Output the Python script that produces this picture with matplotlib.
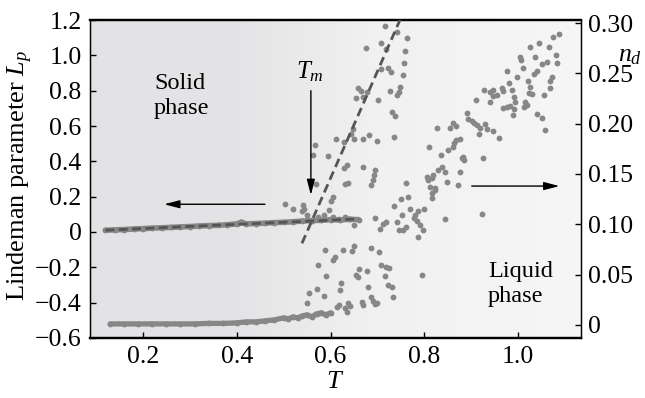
import numpy as np
import matplotlib
matplotlib.use("Agg")
import matplotlib.pyplot as plt
from matplotlib.colors import LinearSegmentedColormap

plt.rcParams['font.family'] = ['Liberation Serif', 'DejaVu Serif']
plt.rcParams['mathtext.fontset'] = 'custom'
plt.rcParams['mathtext.rm'] = 'Liberation Serif'
plt.rcParams['mathtext.it'] = 'Liberation Serif:italic'
plt.rcParams['axes.unicode_minus'] = True

# ---------------- data ----------------
# Lindeman parameter, solid band
Lp_solid_T = [0.12, 0.14, 0.16, 0.18, 0.20, 0.22, 0.24, 0.26, 0.28, 0.30, 0.32, 0.34,
              0.36, 0.38, 0.40, 0.41, 0.42, 0.44, 0.46, 0.48, 0.50, 0.52, 0.54, 0.56,
              0.58, 0.60, 0.62, 0.64, 0.66]
Lp_solid = [0.010, 0.012, 0.014, 0.017, 0.019, 0.022, 0.024, 0.026, 0.029, 0.031, 0.034, 0.036,
            0.038, 0.041, 0.046, 0.056, 0.046, 0.048, 0.050, 0.053, 0.055, 0.058, 0.062, 0.065,
            0.066, 0.070, 0.068, 0.072, 0.070]

# Lindeman parameter, scattered points near / above melting
Lp_melt_T = [0.716, 0.742, 0.763, 0.675, 0.708, 0.718, 0.759, 0.757, 0.707, 0.723, 0.729, 0.754,
             0.658, 0.664, 0.670, 0.655, 0.678, 0.702, 0.727, 0.749, 0.746, 0.742, 0.731, 0.737,
             0.647, 0.644, 0.651, 0.612, 0.628, 0.669, 0.681, 0.700, 0.735, 0.567, 0.562, 0.595,
             0.635, 0.628, 0.670, 0.695, 0.692, 0.690, 0.687, 0.569, 0.631, 0.638, 0.606, 0.503,
             0.519, 0.541, 0.543, 0.600, 0.539, 0.549, 0.585, 0.597, 0.606, 0.574, 0.617, 0.631,
             0.642]
Lp_melt = [1.166, 1.134, 1.101, 1.044, 1.070, 1.036, 1.026, 0.958, 0.920, 0.927, 0.908, 0.890,
           0.816, 0.797, 0.766, 0.760, 0.794, 0.745, 0.800, 0.818, 0.794, 0.775, 0.681, 0.657,
           0.583, 0.555, 0.525, 0.525, 0.511, 0.528, 0.549, 0.517, 0.539, 0.492, 0.436, 0.433,
           0.379, 0.364, 0.370, 0.349, 0.323, 0.294, 0.266, 0.273, 0.269, 0.276, 0.200, 0.159,
           0.129, 0.153, 0.133, 0.177, 0.121, 0.096, 0.096, 0.125, 0.083, 0.087, 0.072, 0.083,
           0.072]

# linear fits (intercept, slope) and their T ranges
solid_fit = (-0.0042, 0.1185)
solid_fit_T = [0.12, 0.66]
liquid_fit = (-3.325, 6.05)
liquid_fit_T = [0.539, 0.77]

# defect density, solid band
nd_solid_T = [0.13, 0.16, 0.19, 0.22, 0.25, 0.28, 0.31, 0.34, 0.37, 0.40, 0.42, 0.44, 0.46,
              0.48, 0.50, 0.51, 0.52, 0.53, 0.54, 0.55, 0.56, 0.57, 0.58, 0.59, 0.60]
nd_solid = [0.001, 0.001, 0.001, 0.001, 0.001, 0.001, 0.001, 0.0015, 0.0015, 0.002, 0.003,
            0.003, 0.004, 0.005, 0.007, 0.006, 0.008, 0.007, 0.009, 0.010, 0.008, 0.011,
            0.012, 0.010, 0.012]

# defect density, liquid side scatter
nd_liq_T = [0.588, 0.610, 0.606, 0.627, 0.645, 0.649, 0.686, 0.703, 0.574, 0.590, 0.661, 0.654,
            0.659, 0.677, 0.707, 0.718, 0.725, 0.715, 0.622, 0.620, 0.679, 0.723, 0.731, 0.734,
            0.553, 0.572, 0.585, 0.549, 0.617, 0.613, 0.631, 0.638, 0.642, 0.635, 0.667, 0.670,
            0.686, 0.691, 0.699, 0.695, 0.795,
            0.651, 0.695, 0.706, 0.711, 0.718, 0.736, 0.750, 0.766, 0.741, 0.752, 0.770, 0.777,
            0.780, 0.787, 0.799, 0.745, 0.754, 0.761, 0.784, 0.791, 0.798, 0.786, 0.843, 0.923,
            0.817, 0.812, 0.823, 0.871, 0.760,
            0.809, 0.827, 0.855, 0.861, 0.868, 0.835, 0.851, 0.863, 0.868, 0.861, 0.883, 0.885,
            0.880, 0.925, 0.876, 0.837, 0.844, 0.848, 0.819, 0.816, 0.807, 0.823, 0.816, 0.830,
            0.805, 0.876,
            0.891, 0.894, 0.901, 0.906, 0.912, 0.919, 0.917, 0.930, 0.933, 0.947, 0.960, 0.910,
            0.927, 0.939, 0.947, 0.955, 0.965, 0.967, 0.947, 0.976, 0.981, 0.987, 0.967, 0.976,
            0.983, 0.991, 0.989, 0.997, 1.003, 1.006, 1.011, 0.994, 1.015, 1.013, 1.019, 1.022,
            1.033, 1.041, 1.026, 1.045, 1.036, 1.050, 1.061, 1.065, 1.075, 1.088, 1.083, 1.080,
            1.072, 1.068, 1.068, 1.055, 1.040, 1.051, 1.058, 1.026, 1.024, 0.939, 0.991, 1.030]
nd_liq = [0.0745, 0.067, 0.0646, 0.0745, 0.0735, 0.0785, 0.076, 0.072, 0.0596, 0.0487, 0.0553,
          0.0497, 0.0474, 0.054, 0.060, 0.058, 0.0563, 0.0487, 0.042, 0.0348, 0.0374, 0.0397,
          0.0374, 0.0275, 0.0315, 0.0355, 0.0288, 0.0222, 0.0199, 0.0176, 0.0166, 0.0222,
          0.0189, 0.0132, 0.0231, 0.0199, 0.0275, 0.0241, 0.0222, 0.0209, 0.050,
          0.0993, 0.106, 0.095, 0.100, 0.102, 0.118, 0.125, 0.127, 0.102, 0.109, 0.115, 0.106,
          0.109, 0.1135, 0.115, 0.094, 0.094, 0.097, 0.103, 0.099, 0.094, 0.087, 0.105, 0.110,
          0.126, 0.137, 0.136, 0.139, 0.141,
          0.1765, 0.196, 0.196, 0.201, 0.198, 0.169, 0.174, 0.1805, 0.184, 0.177, 0.167, 0.164,
          0.1655, 0.166, 0.152, 0.157, 0.152, 0.142, 0.149, 0.146, 0.144, 0.134, 0.131, 0.154,
          0.147, 0.1845,
          0.211, 0.205, 0.203, 0.201, 0.199, 0.196, 0.190, 0.200, 0.195, 0.193, 0.1855, 0.2235,
          0.233, 0.231, 0.227, 0.2285, 0.235, 0.232, 0.2335, 0.252, 0.240, 0.2335, 0.216, 0.217,
          0.2175, 0.215, 0.2085, 0.246, 0.2665, 0.263, 0.255, 0.222, 0.222, 0.217, 0.2185, 0.242,
          0.249, 0.252, 0.2765, 0.2805, 0.2665, 0.259, 0.2615, 0.2765, 0.2865, 0.289, 0.2605, 0.268,
          0.246, 0.2425, 0.235, 0.2285, 0.210, 0.206, 0.194, 0.236, 0.230, 0.222, 0.226, 0.2295]

x_ticks = [0.2, 0.4, 0.6, 0.8, 1.0]
x_ticklabels = ["0.2", "0.4", "0.6", "0.8", "1.0"]
lp_ticks = [1.2, 1.0, 0.8, 0.6, 0.4, 0.2, 0.0, -0.2, -0.4, -0.6]
lp_ticklabels = ["1.2", "1.0", "0.8", "0.6", "0.4", "0.2", "0", "\u22120.2", "\u22120.4", "\u22120.6"]
nd_ticks = [0.30, 0.25, 0.20, 0.15, 0.10, 0.05, 0.0]
nd_ticklabels = ["0.30", "0.25", "0.20", "0.15", "0.10", "0.05", "0"]

# ---------------- figure ----------------
DOT = '#878787'
DASH = '#555555'
fig = plt.figure(figsize=(6.45, 3.98), dpi=100)
ax = fig.add_axes([0.1395, 0.1508, 0.7613, 0.7989])
ax.set_xlim(0.087, 1.134)
ax.set_ylim(-0.6, 1.2)

# background gradient
cmap = LinearSegmentedColormap.from_list(
    'bg', [(0.0, (0.890, 0.890, 0.898)), (0.30, (0.894, 0.894, 0.902)),
           (0.58, (0.945, 0.945, 0.949)), (1.0, (0.965, 0.965, 0.965))])
grad = np.linspace(0, 1, 512).reshape(1, -1)
ax.imshow(grad, extent=[0.087, 1.134, -0.6, 1.2], aspect='auto', cmap=cmap,
          zorder=0, interpolation='bicubic')

ax2 = ax.twinx()
ax2.set_ylim(-0.013, 0.303)

ms = 4.2
# Lp data
ax.plot(Lp_solid_T, Lp_solid, '-', color=DOT, lw=4.0, solid_capstyle='round', zorder=2)
ax.plot(Lp_solid_T, Lp_solid, 'o', color=DOT, ms=ms, mew=0, zorder=2)
ax.plot(Lp_melt_T, Lp_melt, 'o', color=DOT, ms=ms, mew=0, zorder=2)
# nd data
ax2.plot(nd_solid_T, nd_solid, '-', color=DOT, lw=3.8, solid_capstyle='round', zorder=2)
ax2.plot(nd_solid_T, nd_solid, 'o', color=DOT, ms=ms, mew=0, zorder=2)
ax2.plot(nd_liq_T, nd_liq, 'o', color=DOT, ms=ms, mew=0, zorder=2)

# overlay axes (same Lp scale) for fits, arrows and annotations
Ts = np.array(solid_fit_T)
Tl = np.array(liquid_fit_T)
fit_ax = fig.add_axes(ax.get_position(), sharex=ax, frameon=False)
fit_ax.set_ylim(-0.6, 1.2)
fit_ax.axis('off')
fit_ax.plot(Ts, solid_fit[0] + solid_fit[1] * Ts, color=DASH, lw=2.0, dashes=(3.2, 1.6))
fit_ax.plot(Tl, liquid_fit[0] + liquid_fit[1] * Tl, color=DASH, lw=2.0, dashes=(3.2, 1.8))

ap = dict(arrowstyle='-|>,head_length=0.85,head_width=0.22', color='k', lw=1.0,
          mutation_scale=11, shrinkA=0, shrinkB=0)
fit_ax.annotate('', xy=(0.245, 0.157), xytext=(0.460, 0.157), arrowprops=ap)
fit_ax.annotate('', xy=(0.558, 0.209), xytext=(0.558, 0.80), arrowprops=ap)
fit_ax.annotate('', xy=(1.088, 0.260), xytext=(0.901, 0.260), arrowprops=ap)
fit_ax.text(0.2235, 0.77, "Solid\nphase", fontsize=17.5, ha='left', va='center', linespacing=1.2)
fit_ax.text(0.936, -0.294, "Liquid\nphase", fontsize=17.5, ha='left', va='center', linespacing=1.2)
fit_ax.text(0.556, 0.906, r"$T_m$", fontsize=18, ha='center', va='center')
fit_ax.text(1.0998, 0.887, r"$n_d$", fontsize=18.5, ha='center', va='center',
            transform=ax.transAxes)

# axes formatting
ax.set_xticks(x_ticks)
ax.set_xticklabels(x_ticklabels)
ax.set_yticks(lp_ticks)
ax.set_yticklabels(lp_ticklabels)
ax2.set_yticks(nd_ticks)
ax2.set_yticklabels(nd_ticklabels)
ax.tick_params(axis='both', direction='in', length=4, width=1, labelsize=18.5, pad=6)
ax.tick_params(axis='x', pad=6)
ax2.tick_params(axis='y', direction='in', length=4, width=1, labelsize=18.5, pad=5)
ax.set_ylabel(r"Lindeman parameter $L_p$", fontsize=19)
ax.yaxis.set_label_coords(-0.112, 0.51)
ax.set_xlabel(r"$T$", fontsize=19)
ax.xaxis.set_label_coords(0.5, -0.105)

for a in (ax, ax2):
    a.spines['top'].set_linewidth(1.6)
    a.spines['bottom'].set_linewidth(1.6)
    a.spines['left'].set_linewidth(0.9)
    a.spines['right'].set_linewidth(0.9)

fig.savefig('out.png', dpi=100)
